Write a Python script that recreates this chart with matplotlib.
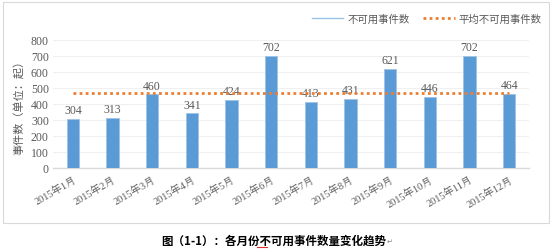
import matplotlib
matplotlib.use("Agg")
import matplotlib.pyplot as plt
from matplotlib.lines import Line2D
from matplotlib.patches import Rectangle

months = ["2015年1月", "2015年2月", "2015年3月", "2015年4月", "2015年5月", "2015年6月",
          "2015年7月", "2015年8月", "2015年9月", "2015年10月", "2015年11月", "2015年12月"]
counts = [304, 313, 460, 341, 424, 702, 413, 431, 621, 446, 702, 464]
average = 468
y_ticks = [0, 100, 200, 300, 400, 500, 600, 700, 800]

FAM = ["Liberation Serif", "Noto Serif CJK SC", "Noto Sans CJK SC", "DejaVu Sans"]
CJK = ["Noto Sans CJK SC", "DejaVu Sans"]
GRAY = "#595959"

W, H = 554, 251
fig = plt.figure(figsize=(W / 100, H / 100), dpi=100)
fig.patch.set_facecolor("white")

# outer frame
fig.add_artist(Rectangle((3 / W, 1 - 224 / H), (549 - 3) / W, (224 - 3) / H,
                         transform=fig.transFigure, fill=False, edgecolor="#D9D9D9", lw=0.8))

ax = fig.add_axes([53 / W, 1 - 169 / H, (529 - 53) / W, (169 - 41) / H])
x = list(range(len(months)))
ax.bar(x, counts, width=0.31, color="#5B9BD5", edgecolor="#9DC3E6", linewidth=0.6, zorder=3)
ax.plot(x, [average] * len(x), color="#ED7D31", lw=2, linestyle=(0, (1, 1.2)), zorder=4)

for xi, v in zip(x, counts):
    ax.text(xi, v + 18, str(v), ha="center", va="bottom", fontsize=8.5, color=GRAY, family=FAM)

ax.set_xlim(-0.5, len(months) - 0.5)
ax.set_ylim(0, 800)
ax.set_yticks(y_ticks)
ax.set_yticklabels([str(t) for t in y_ticks], fontsize=8.5, color=GRAY, family=FAM)
ax.set_xticks(x)
ax.set_xticklabels(months, rotation=30, ha="right", rotation_mode="anchor",
                   fontsize=7.5, color=GRAY, family=FAM)
ax.tick_params(axis="both", length=0, pad=3)
ax.tick_params(axis="x", pad=4)
ax.grid(axis="y", color="#F0F0F0", lw=0.8, zorder=0)
for s in ["top", "right", "left"]:
    ax.spines[s].set_visible(False)
ax.spines["bottom"].set_color("#D9D9D9")
ax.spines["bottom"].set_linewidth(1)
ax.set_ylabel("事件数（单位：起）", fontsize=8, color=GRAY, family=CJK, labelpad=5)

handles = [Line2D([], [], color="#9DC3E6", lw=1),
           Line2D([], [], color="#ED7D31", lw=2, linestyle=(0, (1, 1.2)))]
fig.legend(handles, ["不可用事件数", "平均不可用事件数"], loc="center",
           bbox_to_anchor=(427 / W, 1 - 20 / H), ncol=2, frameon=False,
           prop={"family": CJK, "size": 7.5}, handlelength=3.0, columnspacing=1.3,
           handletextpad=0.4, labelcolor=GRAY)

fig.text(274 / W, 1 - 241 / H, "图（1-1）：各月份不可用事件数量变化趋势", ha="center", va="center",
         fontsize=8.3, fontweight="bold", family=CJK, color="black")
fig.text(387 / W, 1 - 242 / H, "↵", ha="left", va="center", fontsize=5, color="#888888",
         family=["DejaVu Sans"])
fig.add_artist(Line2D([257 / W, 267 / W], [1 - 247.5 / H, 1 - 247.5 / H],
                      transform=fig.transFigure, color="#E03030", lw=0.8))

fig.savefig("out.png", dpi=100)
